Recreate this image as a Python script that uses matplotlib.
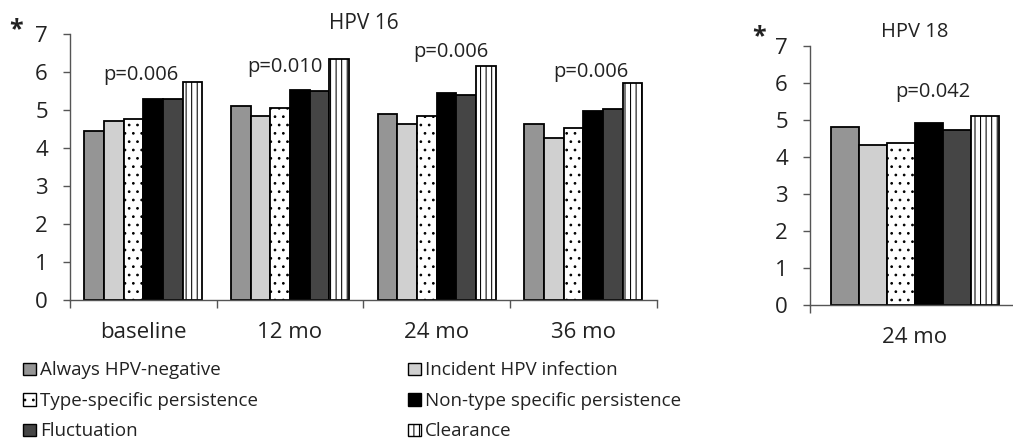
import numpy as np
import matplotlib.pyplot as plt
from matplotlib.patches import Rectangle

plt.rcParams["font.family"] = ["Open Sans", "DejaVu Sans"]
plt.rcParams["hatch.linewidth"] = 0.75

groups = ["Always HPV-negative", "Incident HPV infection", "Type-specific persistence",
          "Non-type specific persistence", "Fluctuation", "Clearance"]
face_colors = ["#959595", "#d0d0d0", "white", "black", "#454545", "white"]
hatches = [None, None, "..", None, None, "|||"]

hpv16_periods = ["baseline", "12 mo", "24 mo", "36 mo"]
hpv16_values = [
    [4.46, 4.71, 4.77, 5.28, 5.28, 5.75],  # baseline
    [5.10, 4.85, 5.06, 5.53, 5.50, 6.33],  # 12 mo
    [4.89, 4.63, 4.85, 5.45, 5.40, 6.17],  # 24 mo
    [4.64, 4.26, 4.52, 4.98, 5.03, 5.70],  # 36 mo
]
hpv16_pvalues = ["p=0.006", "p=0.010", "p=0.006", "p=0.006"]

hpv18_periods = ["24 mo"]
hpv18_values = [[4.81, 4.33, 4.37, 4.91, 4.72, 5.11]]
hpv18_pvalues = ["p=0.042"]

bar_w = 0.134
W, H = 1013, 440
txt_color = "#222222"
axis_color = "#555555"


def px(x, y):
    """pixel position (from top-left) -> figure fraction"""
    return x / W, 1 - y / H


def draw_panel(ax, periods, values, pvalues, p_pos):
    x = np.arange(len(periods))
    vals = np.array(values)
    for j in range(len(groups)):
        ax.bar(x + (j - 2.5) * bar_w, vals[:, j], width=bar_w,
               color=face_colors[j], edgecolor="black", linewidth=1.3,
               hatch=hatches[j], zorder=2)
    for i, (p, (dx, py)) in enumerate(zip(pvalues, p_pos)):
        ax.text(x[i] + dx, py, p, ha="center", va="baseline", fontsize=14.5, color=txt_color)
    ax.set_ylim(0, 7)
    ax.set_xlim(-0.5, len(periods) - 0.5)
    ax.set_yticks(range(0, 8))
    # tick marks on the category boundaries, labels centred under each group
    ax.set_xticks(np.arange(len(periods) + 1) - 0.5)
    ax.set_xticklabels([])
    ax.set_xticks(x, minor=True)
    ax.set_xticklabels(periods, minor=True, fontsize=16, color=txt_color)
    ax.tick_params(axis="x", which="major", direction="out", length=6, width=1, color=axis_color)
    ax.tick_params(axis="x", which="minor", length=0, pad=16)
    ax.tick_params(axis="y", direction="out", length=5, width=1, color=axis_color,
                   labelsize=16, labelcolor=txt_color, pad=11)
    for s in ["top", "right"]:
        ax.spines[s].set_visible(False)
    for s in ["left", "bottom"]:
        ax.spines[s].set_color(axis_color)
        ax.spines[s].set_linewidth(1)


fig = plt.figure(figsize=(W / 100, H / 100), dpi=100)

ax16 = fig.add_axes([70 / W, 1 - 300 / H, 586.7 / W, 266 / H])
draw_panel(ax16, hpv16_periods, hpv16_values, hpv16_pvalues,
           [(-0.02, 5.79), (-0.035, 6.01), (0.095, 6.40), (0.05, 5.88)])
ax16.set_title("HPV 16", fontsize=15, pad=3, color=txt_color)

ax18 = fig.add_axes([810 / W, 1 - 305 / H, 210 / W, 259.3 / H])
draw_panel(ax18, hpv18_periods, hpv18_values, hpv18_pvalues, [(0.083, 5.62)])
ax18.set_title("HPV 18", fontsize=14.5, pad=6.5, color=txt_color)

for sx, sy in [(16, 36), (759, 43)]:
    fig.text(*px(sx, sy), "*", fontsize=18, fontweight="bold", ha="center",
             va="baseline", color=txt_color)

# legend: two columns, three rows, small swatches
col_x = [23, 408]
row_base = [375, 405.5, 436]
sw = 12.5
for j, name in enumerate(groups):
    cx = col_x[j % 2]
    by = row_base[j // 2]
    fig.add_artist(Rectangle(px(cx, by), sw / W, sw / H, transform=fig.transFigure,
                             facecolor=face_colors[j], edgecolor="black",
                             hatch=hatches[j], linewidth=1))
    fig.text(*px(cx + sw + 4.5, by), name, fontsize=13.5, ha="left", va="baseline",
             color=txt_color)

fig.savefig("out.png", dpi=100)
